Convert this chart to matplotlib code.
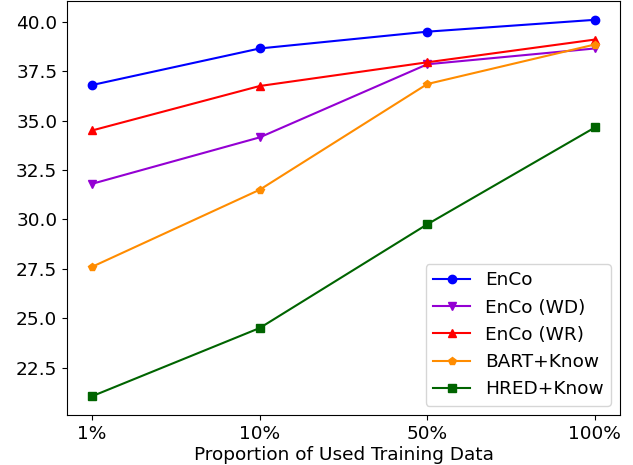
import matplotlib
matplotlib.use('Agg')
import matplotlib.pyplot as plt

# 数据
proportions = ['1%', '10%', '50%', '100%']
enco = [36.8, 38.65, 39.5, 40.1]
enco_wd = [31.8, 34.15, 37.85, 38.65]
enco_wr = [34.5, 36.75, 37.95, 39.1]
bart_know = [27.6, 31.5, 36.85, 38.85]
hred_know = [21.05, 24.5, 29.75, 34.65]

fs = 13.3

fig = plt.figure(figsize=(6.33, 4.65), dpi=100)
ax = fig.add_axes([67 / 633, 1 - 415 / 465, 553 / 633, 414 / 465])

x = range(len(proportions))
ax.plot(x, enco, color='blue', marker='o', label='EnCo')
ax.plot(x, enco_wd, color='darkviolet', marker='v', label='EnCo (WD)')
ax.plot(x, enco_wr, color='red', marker='^', label='EnCo (WR)')
ax.plot(x, bart_know, color='darkorange', marker='p', label='BART+Know')
ax.plot(x, hred_know, color='darkgreen', marker='s', label='HRED+Know')

ax.set_xticks(list(x))
ax.set_xticklabels(proportions)
ax.tick_params(labelsize=fs)
ax.set_xlabel('Proportion of Used Training Data', fontsize=fs, labelpad=2)
ax.legend(loc='lower right', fontsize=fs)

plt.savefig('out.png', dpi=100)
